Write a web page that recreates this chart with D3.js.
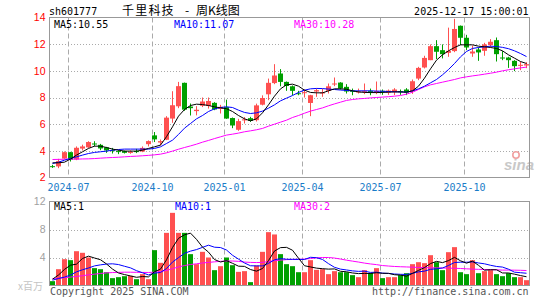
<!DOCTYPE html>
<html><head><meta charset="utf-8">
<script src="https://cdn.jsdelivr.net/npm/d3@7"></script>
<style>
html,body{margin:0;padding:0;background:#fff;}
svg{display:block;}
.mono{font-family:"DejaVu Sans Mono",monospace;font-size:10px;}
</style></head>
<body>
<svg id="chart" width="545" height="300"></svg>
<script>
// ---------- data (weekly, sh601777) ----------
const weeks = d3.range(80); // category index per trading week
const tickIdx = [3, 17, 29, 42, 55, 69];
const tickLabels = ["2024-07", "2024-10", "2025-01", "2025-04", "2025-07", "2025-10"];
const priceTicks = [14, 12, 10, 8, 6, 4, 2];
const volTicks = [12, 8, 4];

const open  = [2.85,2.83,3.42,3.9,3.35,4.17,4.26,4.55,4.45,4.26,4.05,3.98,3.98,3.88,3.98,3.95,4.5,5.16,4.62,4.83,
               6.42,7.34,9.1,7.32,6.98,7.38,7.37,7.6,7.15,7.28,6.46,5.58,6.28,6.45,6.3,7.46,8.24,9.08,9.8,9.17,
               8.84,8.32,8.35,7.59,8.45,8.3,8.5,8.98,9.12,8.8,8.5,8.42,8.45,8.5,8.4,8.5,8.37,8.4,8.47,8.6,
               8.47,9.42,10.25,10.8,11.85,11.55,11.35,11.48,13.38,12.48,11.3,11.6,11.5,11.93,12.3,11.0,11.0,10.75,10.38,10.4];
const high  = [2.95,3.4,3.95,3.92,4.33,4.46,4.72,4.72,4.52,4.3,4.22,4.05,4.02,4.03,4.15,4.33,4.78,5.41,4.85,6.6,
               8.47,9.17,9.12,7.55,7.35,8.0,8.0,7.65,7.45,7.84,6.5,6.4,6.53,6.55,7.54,8.16,9.42,10.5,10.13,9.2,
               8.9,8.5,8.6,8.2,8.67,8.65,9.05,9.5,9.15,9.0,8.67,8.67,9.05,8.67,9.2,8.6,8.6,8.7,8.6,8.7,
               9.35,10.3,11.13,11.98,12.3,11.98,13.24,13.9,13.4,12.7,11.9,11.75,12.1,12.38,12.5,11.48,11.05,10.8,10.68,10.65];
const low   = [2.72,2.7,3.4,3.2,3.3,4.03,4.22,4.33,4.05,3.85,3.8,3.75,3.8,3.78,3.83,3.9,4.33,4.66,4.4,4.8,
               6.1,7.2,7.0,6.65,6.66,7.28,7.17,7.05,6.8,6.4,5.7,5.5,6.05,6.17,6.2,7.41,7.8,9.0,8.84,8.5,
               8.17,8.17,8.0,6.6,8.05,8.05,8.3,8.85,8.6,8.3,8.17,8.3,8.25,8.17,8.25,8.2,8.2,8.18,8.2,8.18,
               8.27,9.3,10.18,10.8,10.88,10.93,11.05,11.4,11.93,11.55,11.05,10.75,11.13,11.75,10.7,10.8,10.22,9.98,10.05,10.2];
const close = [2.82,3.23,3.9,3.33,4.23,4.33,4.66,4.5,4.18,4.03,4.0,3.95,3.85,3.92,3.95,4.22,4.73,4.86,4.73,6.49,
               7.42,8.85,7.09,7.2,7.08,7.7,7.74,7.1,7.3,6.42,5.9,6.23,6.36,6.25,7.41,7.96,9.1,9.65,9.17,8.86,
               8.5,8.28,8.4,8.17,8.55,8.38,8.84,9.05,8.68,8.45,8.45,8.45,8.5,8.42,8.48,8.45,8.52,8.6,8.42,8.37,
               9.22,10.22,10.97,11.85,11.43,11.25,11.5,13.14,12.48,11.75,11.45,11.38,11.98,12.18,11.25,10.96,10.8,10.35,10.45,10.5];

const ma5   = [3.1,3.1,3.15,3.38,3.68,3.93,4.18,4.35,4.35,4.25,4.13,4.05,3.98,3.98,3.98,4.05,4.18,4.3,4.43,5.06,
               5.8,6.6,7.1,7.4,7.5,7.47,7.4,7.3,7.22,7.16,6.95,6.65,6.4,6.25,6.4,6.85,7.45,8.1,8.65,8.95,
               9.0,8.85,8.55,8.38,8.35,8.35,8.5,8.65,8.65,8.62,8.5,8.42,8.38,8.37,8.37,8.38,8.4,8.42,8.42,8.4,
               8.5,8.85,9.45,10.15,10.8,11.2,11.5,11.75,11.95,11.95,11.95,11.85,11.8,11.75,11.68,11.5,11.2,10.95,10.7,10.55];
const ma10  = [3.05,3.15,3.3,3.43,3.55,3.68,3.8,3.88,3.93,3.98,4.05,4.1,4.13,4.13,4.13,4.13,4.13,4.18,4.3,4.55,
               4.8,5.23,5.7,6.05,6.4,6.65,6.95,7.15,7.25,7.3,7.25,7.05,6.88,6.8,6.85,6.98,7.2,7.45,7.75,7.95,
               8.15,8.38,8.55,8.65,8.68,8.67,8.63,8.6,8.56,8.53,8.5,8.5,8.5,8.5,8.48,8.47,8.45,8.43,8.42,8.4,
               8.5,8.65,8.85,9.1,9.35,9.7,10.1,10.55,11.05,11.45,11.68,11.75,11.8,11.85,11.82,11.76,11.66,11.5,11.3,11.07];
const ma30  = [3.35,3.36,3.37,3.38,3.38,3.39,3.4,3.42,3.45,3.48,3.5,3.52,3.55,3.58,3.6,3.63,3.66,3.7,3.75,3.85,
               3.98,4.12,4.25,4.37,4.5,4.65,4.78,4.92,5.05,5.18,5.25,5.33,5.43,5.5,5.58,5.68,5.85,6.0,6.15,6.3,
               6.5,6.65,6.82,6.98,7.1,7.22,7.38,7.52,7.65,7.78,7.85,7.9,7.93,7.97,8.0,8.03,8.06,8.1,8.15,8.25,
               8.4,8.6,8.8,8.95,9.05,9.15,9.25,9.35,9.47,9.55,9.62,9.68,9.75,9.82,9.9,10.0,10.08,10.15,10.22,10.28];

const volume = [0.62,2.33,3.76,3.62,4.9,4.67,4.0,2.48,2.33,1.9,1.05,1.19,1.33,1.38,0.9,1.62,0.9,5.05,3.24,7.52,
                10.38,7.52,7.52,4.48,3.05,4.81,4.0,2.19,2.76,4.0,2.9,1.95,2.05,0.48,2.86,4.81,7.62,7.29,4.48,3.05,
                2.76,1.9,1.9,3.62,2.24,2.33,1.62,2.05,1.9,1.9,1.48,1.19,2.19,1.81,2.48,1.05,1.19,1.19,1.48,1.76,
                3.05,3.33,3.19,4.33,3.33,2.19,4.76,5.48,1.9,1.62,3.62,1.76,2.05,2.19,1.62,1.33,1.76,1.19,1.19,0.76];
const vma5  = [0.9,1.5,2.3,2.9,3.05,3.86,4.19,3.93,3.68,3.08,2.35,1.79,1.56,1.37,1.17,1.28,1.23,1.97,2.34,3.67,
               5.42,6.74,7.24,7.48,6.59,5.48,4.77,3.71,3.36,3.55,3.17,2.76,2.73,2.28,2.05,2.43,3.56,4.93,5.41,5.45,
               5.04,3.9,2.82,2.65,2.48,2.4,2.34,2.37,2.03,1.96,1.79,1.7,1.73,1.71,1.83,1.74,1.74,1.54,1.48,1.33,
               1.73,2.16,2.56,3.13,3.45,3.27,3.56,4.02,3.53,3.19,3.48,2.88,2.19,2.25,2.25,1.79,1.79,1.62,1.42,1.25];
const vma10 = [0.76,1.0,1.2,1.5,1.95,2.25,2.5,2.8,2.95,3.06,3.1,2.99,2.75,2.52,2.12,1.82,1.51,1.77,1.86,2.42,
               3.35,3.98,4.6,4.91,5.13,5.45,5.76,5.47,5.42,5.07,4.32,3.77,3.22,2.82,2.8,2.8,3.16,3.67,3.84,3.75,
               3.74,3.73,3.72,4.03,3.97,3.72,3.12,2.6,2.34,2.22,2.09,2.02,2.05,1.87,1.9,1.77,1.72,1.64,1.6,1.58,
               1.74,1.95,2.05,2.31,2.39,2.5,2.86,3.29,3.33,3.32,3.38,3.22,3.1,2.89,2.72,2.63,2.33,1.9,1.83,1.75];
const vma30 = [1.0,1.05,1.12,1.2,1.3,1.4,1.52,1.62,1.72,1.8,1.85,1.88,1.9,1.9,1.88,1.87,1.86,1.9,2.0,2.15,
               2.4,2.65,2.85,3.0,3.1,3.22,3.3,3.38,3.45,3.5,3.5,3.45,3.35,3.3,3.28,3.3,3.42,3.55,3.62,3.7,
               3.72,3.74,3.78,3.85,3.95,4.0,4.0,3.92,3.78,3.62,3.48,3.35,3.2,3.08,2.98,2.85,2.78,2.72,2.68,2.65,
               2.62,2.58,2.55,2.53,2.52,2.5,2.48,2.46,2.43,2.38,2.34,2.31,2.29,2.27,2.24,2.2,2.2,2.19,2.17,2.14];

// ---------- layout ----------
const L = 50, R = 530;
const svg = d3.select("#chart");
const RED = "#ff5050", GREEN = "#00a000", GRID = "#aaaaaa", FRAME = "#999999";

const x = d3.scaleBand().domain(weeks).range([L, R]).paddingInner(0).paddingOuter(0);
const bw = 5;
const cx = i => x(i) + 2.5;

const yP = d3.scaleLinear().domain([2, 14]).range([177.5, 17.5]);
const yV = d3.scaleLinear().domain([0, 12]).range([285.5, 201.5]);

function panel(y, ticks, top, bottom, labelColor, labelFont) {
  const g = svg.append("g");
  g.selectAll("line.h").data(ticks.filter(t => Math.abs(y(t) - top) > 1 && Math.abs(y(t) - bottom) > 1))
    .join("line").attr("x1", L).attr("x2", R - 1)
    .attr("y1", d => Math.round(y(d)) + 0.5).attr("y2", d => Math.round(y(d)) + 0.5)
    .attr("stroke", GRID).attr("stroke-dasharray", "1,2");
  g.selectAll("line.v").data(tickIdx).join("line")
    .attr("x1", d => x(d) + 0.5).attr("x2", d => x(d) + 0.5)
    .attr("y1", top).attr("y2", bottom)
    .attr("stroke", GRID).attr("stroke-dasharray", "5,3");
  const ax = d3.axisLeft(y).tickValues(ticks).tickSize(0).tickPadding(4).tickFormat(d3.format("d"));
  const ag = svg.append("g").attr("transform", `translate(${L - 0.5},0)`).call(ax);
  ag.select(".domain").remove();
  ag.selectAll("text").attr("fill", labelColor).style("font-family", "Liberation Sans, Arial, sans-serif")
    .style("font-size", labelFont);
  return g;
}

panel(yP, priceTicks, 17.5, 177.5, "#ff0000", "10.5px");
panel(yV, volTicks, 201.5, 285.5, "#a0a0a0", "10.5px");

// ---------- watermark ----------
const wm = svg.append("g");
wm.append("text").attr("x", 504).attr("y", 170).text("sina")
  .attr("font-family", "Liberation Sans, Arial, sans-serif").attr("font-style", "italic").attr("font-weight", "bold")
  .attr("font-size", 15).attr("fill", "#c8c8c8");
wm.append("circle").attr("cx", 516).attr("cy", 155).attr("r", 3.2).attr("fill", "none").attr("stroke", "#f0a0a0").attr("stroke-width", 1.6);

// ---------- candles ----------
const cg = svg.append("g");
weeks.forEach(i => {
  const up = close[i] >= open[i];
  const col = up ? RED : GREEN;
  cg.append("line").attr("x1", cx(i)).attr("x2", cx(i))
    .attr("y1", yP(high[i])).attr("y2", yP(low[i])).attr("stroke", col).attr("stroke-width", 1);
  const yt = yP(Math.max(open[i], close[i])), yb = yP(Math.min(open[i], close[i]));
  cg.append("rect").attr("x", x(i)).attr("width", bw)
    .attr("y", yt).attr("height", Math.max(1, yb - yt)).attr("fill", col);
});

// ---------- MA lines (price) ----------
const lineP = arr => d3.line().x(i => cx(i)).y(i => yP(arr[i]))(weeks);
[[ma30, "#ff00ff"], [ma10, "#0000ff"], [ma5, "#000000"]].forEach(([a, c]) =>
  svg.append("path").attr("d", lineP(a)).attr("fill", "none").attr("stroke", c).attr("stroke-width", 1));

// ---------- volume ----------
const vg = svg.append("g");
vg.selectAll("rect").data(weeks).join("rect")
  .attr("x", i => x(i)).attr("width", bw)
  .attr("y", i => yV(volume[i])).attr("height", i => yV(0) - yV(volume[i]))
  .attr("fill", i => close[i] >= open[i] ? RED : GREEN);
const lineV = arr => d3.line().x(i => cx(i)).y(i => yV(arr[i]))(weeks);
[[vma30, "#ff00ff"], [vma10, "#0000ff"], [vma5, "#000000"]].forEach(([a, c]) =>
  svg.append("path").attr("d", lineV(a)).attr("fill", "none").attr("stroke", c).attr("stroke-width", 1));

// ---------- frames ----------
svg.append("rect").attr("x", L - 0.5).attr("y", 17.5).attr("width", R - L).attr("height", 160)
  .attr("fill", "none").attr("stroke", FRAME);
svg.append("rect").attr("x", L - 0.5).attr("y", 201.5).attr("width", R - L).attr("height", 84)
  .attr("fill", "none").attr("stroke", FRAME);

// ---------- x labels ----------
svg.append("g").selectAll("text").data(tickIdx).join("text")
  .attr("class", "mono").attr("x", d => x(d) + 0.5).attr("y", 191)
  .attr("text-anchor", "middle").attr("fill", "#1a7cc8").text((d, k) => tickLabels[k]);

// ---------- texts ----------
const T = (x0, y0, s, col, anchor, cls) => svg.append("text").attr("class", cls || "mono")
  .attr("x", x0).attr("y", y0).attr("fill", col).attr("text-anchor", anchor || "start").text(s);
T(49, 15, "sh601777", "#000");
const CJK = "Noto Sans CJK SC, sans-serif";
svg.append("text").attr("x", 122).attr("y", 15).attr("fill", "#000").attr("font-family", CJK)
  .attr("font-size", 12).attr("letter-spacing", 1.2).text("千里科技");
svg.append("text").attr("x", 187).attr("y", 15).attr("fill", "#000").attr("font-family", CJK)
  .attr("font-size", 12).attr("text-anchor", "middle").text("-");
svg.append("text").attr("x", 196).attr("y", 15).attr("fill", "#000").attr("font-family", CJK)
  .attr("font-size", 12).text("周K线图");
T(528.5, 15, "2025-12-17 15:00:01", "#000", "end");
T(54, 27.5, "MA5:" + ma5[79].toFixed(2), "#000");
T(174, 27.5, "MA10:" + ma10[79].toFixed(2), "#0000ff");
T(294, 27.5, "MA30:" + ma30[79].toFixed(2), "#ff00ff");
T(54, 209.5, "MA5:" + Math.floor(vma5[79]), "#000");
T(175, 209.5, "MA10:" + Math.floor(vma10[79]), "#0000ff");
T(294, 209.5, "MA30:" + Math.floor(vma30[79]), "#ff00ff");
svg.append("text").attr("x", 18).attr("y", 290).attr("fill", "#c4c4c4")
  .attr("font-family", CJK).attr("font-size", 10).text("x百万");
T(50, 294.5, "Copyright 2025 SINA.COM", "#555");
T(528.5, 294.5, "http://finance.sina.com.cn", "#555", "end");
</script>
</body></html>
